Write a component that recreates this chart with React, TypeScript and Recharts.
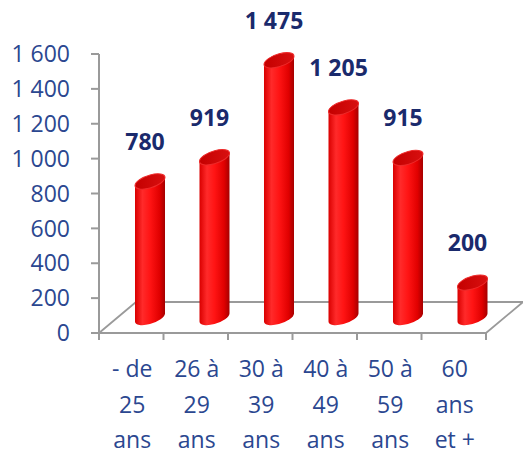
import { BarChart, Bar, XAxis, YAxis, ReferenceArea, LabelList } from 'recharts';

const categories = ['- de 25 ans', '26 à 29 ans', '30 à 39 ans', '40 à 49 ans', '50 à 59 ans', '60 ans et +'];
const categoryLines = [
    ['- de', '25', 'ans'],
    ['26 à', '29', 'ans'],
    ['30 à', '39', 'ans'],
    ['40 à', '49', 'ans'],
    ['50 à', '59', 'ans'],
    ['60', 'ans', 'et +'],
];
const effectifs = [780, 919, 1475, 1205, 915, 200];
const yTicks = [0, 200, 400, 600, 800, 1000, 1200, 1400, 1600];

const data = categories.map((name, i) => ({ name, value: effectifs[i] }));

const FONT = '"Open Sans", Lato, sans-serif';
const AXIS_BLUE = '#2b4790';
const LABEL_NAVY = '#1a2a6c';
const GRID_GREY = '#9a9a9a';
// 3D floor depth
const DEPTH_X = 37;
const DEPTH_Y = -31;
// bars sit halfway into the depth
const BAR_DX = 19;
const BAR_DY = -15.5;
const SKEW = Math.tan((-15 * Math.PI) / 180);

const fmt = (v: number) => String(v).replace(/\B(?=(\d{3})+(?!\d))/g, ' ');

const Floor = (props: any) => {
    const { x, y, width, height } = props;
    const bottom = y + height;
    const right = x + width;
    const n = categories.length;
    const ticks = [];
    for (let i = 0; i <= n; i++) {
        const tx = x + (i * width) / n;
        ticks.push(<line key={i} x1={tx} y1={bottom} x2={tx} y2={bottom + 7} stroke={GRID_GREY} strokeWidth={2} />);
    }
    return (
        <g>
            <polygon
                points={`${x},${bottom} ${right},${bottom} ${right + DEPTH_X},${bottom + DEPTH_Y} ${x + DEPTH_X},${bottom + DEPTH_Y}`}
                fill="#ffffff"
                stroke={GRID_GREY}
                strokeWidth={1.8}
                strokeLinejoin="round"
            />
            {ticks}
        </g>
    );
};

const Cylinder = (props: any) => {
    const { x, y, width, height } = props;
    if (width == null || height == null) return null;
    const rx = width / 2;
    const ry = 6.5;
    const cx = x + rx + BAR_DX;
    const yTop = y + BAR_DY;
    const yBot = y + height + BAR_DY;
    const body = `M ${cx - rx} ${yTop} L ${cx - rx} ${yBot} A ${rx} ${ry} 0 0 0 ${cx + rx} ${yBot} L ${cx + rx} ${yTop} Z`;
    // skew vertically around the bar centre so caps tilt up to the right
    const t = `translate(${cx} 0) matrix(1 ${SKEW} 0 1 0 0) translate(${-cx} 0)`;
    return (
        <g transform={t}>
            <path d={body} fill="url(#cylBody)" />
            <ellipse cx={cx} cy={yTop} rx={rx} ry={ry} fill="url(#cylTop)" stroke="#ee2a2a" strokeWidth={1} />
        </g>
    );
};

const ValueLabel = (props: any) => {
    const { x, y, width, value } = props;
    return (
        <text
            x={x + width / 2 + BAR_DX - 5}
            y={y + BAR_DY - 40}
            dy="0.36em"
            textAnchor="middle"
            fontFamily={FONT}
            fontWeight={700}
            fontSize={23}
            fill={LABEL_NAVY}
        >
            {fmt(value)}
        </text>
    );
};

const CategoryTick = (props: any) => {
    const { x, y, index } = props;
    const lines = categoryLines[index] || [];
    return (
        <text x={x + 1} y={y} textAnchor="middle" fontFamily={FONT} fontSize={23} fill={AXIS_BLUE}>
            {lines.map((l, i) => (
                <tspan key={i} x={x + 1} y={y + 44 + i * 35.5}>
                    {l}
                </tspan>
            ))}
        </text>
    );
};

export default function App() {
    return (
        <div style={{ position: 'absolute', left: 0, top: 0, width: 523, height: 454, background: '#ffffff' }}>
            <BarChart width={523} height={454} data={data} margin={{ top: 54, right: 37, bottom: 0, left: 0 }} barSize={30}>
                <defs>
                    <linearGradient id="cylBody" x1="0" y1="0" x2="1" y2="0">
                        <stop offset="0%" stopColor="#d90000" />
                        <stop offset="25%" stopColor="#ff2a2a" />
                        <stop offset="50%" stopColor="#ff1414" />
                        <stop offset="82%" stopColor="#e00000" />
                        <stop offset="100%" stopColor="#a50000" />
                    </linearGradient>
                    <linearGradient id="cylTop" x1="0" y1="0" x2="1" y2="0">
                        <stop offset="0%" stopColor="#c40000" />
                        <stop offset="100%" stopColor="#d81010" />
                    </linearGradient>
                </defs>
                <XAxis dataKey="name" axisLine={false} tickLine={false} tickSize={0} tickMargin={0} height={121} tick={<CategoryTick />} interval={0} />
                <YAxis
                    width={99}
                    domain={[0, 1600]}
                    ticks={yTicks}
                    tickFormatter={fmt}
                    axisLine={{ stroke: GRID_GREY, strokeWidth: 2 }}
                    tickLine={{ stroke: GRID_GREY, strokeWidth: 2 }}
                    tickSize={8}
                    tickMargin={21}
                    tick={{ fontFamily: FONT, fontSize: 23, fill: AXIS_BLUE }}
                />
                <ReferenceArea y1={0} y2={1600} shape={<Floor />} ifOverflow="visible" />
                <Bar dataKey="value" isAnimationActive={false} shape={<Cylinder />}>
                    <LabelList dataKey="value" content={<ValueLabel />} />
                </Bar>
            </BarChart>
        </div>
    );
}
